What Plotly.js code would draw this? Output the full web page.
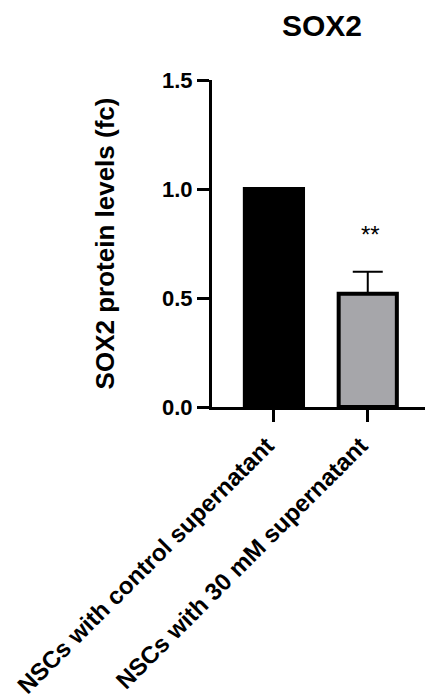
<!DOCTYPE html>
<html>
<head>
<meta charset="utf-8">
<script src="https://cdn.plot.ly/plotly-3.0.1.min.js"></script>
<style>html,body{margin:0;padding:0;background:#fff;}#chart{width:425px;height:700px;}</style>
</head>
<body>
<div id="chart"></div>
<script>
var categories = ["NSCs with control supernatant", "NSCs with 30 mM supernatant"];
var values = [1.0, 0.52];
var errorsPlus = [0, 0.10];
var significance = ["", "**"];
var yTickVals = [0, 0.5, 1.0, 1.5];
var chartTitle = "SOX2";
var yTitle = "SOX2 protein levels (fc)";

var FONT = "Liberation Sans, Arial, sans-serif";

var trace = {
  type: "bar",
  x: categories,
  y: values,
  width: [0.62, 0.62],
  marker: {
    color: ["#000000", "#a6a6aa"],
    line: {color: "#000000", width: 4}
  },
  error_y: {
    type: "data",
    symmetric: false,
    array: errorsPlus,
    arrayminus: [0, 0],
    color: "#000000",
    thickness: 2,
    width: 15,
    visible: true
  },
  hoverinfo: "skip"
};

var annotations = [];
for (var i = 0; i < categories.length; i++) {
  if (significance[i]) {
    annotations.push({
      x: categories[i],
      y: 0.79,
      xref: "x",
      yref: "y",
      text: significance[i],
      showarrow: false,
      font: {family: FONT, size: 24, color: "#000"},
      xshift: 3,
      yanchor: "middle"
    });
  }
}

var layout = {
  width: 425,
  height: 700,
  margin: {l: 212, r: 0, t: 80, b: 293, pad: 0},
  paper_bgcolor: "#ffffff",
  plot_bgcolor: "#ffffff",
  showlegend: false,
  title: {
    text: "<b>" + chartTitle + "</b>",
    font: {family: FONT, size: 30, color: "#000"},
    x: 322 / 425,
    xref: "container",
    xanchor: "center",
    y: 1 - 25 / 700,
    yref: "container",
    yanchor: "middle"
  },
  xaxis: {
    type: "category",
    range: [-0.66, 1.61],
    showline: true,
    linecolor: "#000",
    linewidth: 3,
    ticks: "outside",
    ticklen: 12,
    tickwidth: 3,
    tickcolor: "#000",
    tickangle: -45,
    ticklabelshift: -7,
    tickfont: {family: FONT, size: 24, color: "#000", weight: "bold"},
    showgrid: false,
    zeroline: false,
    fixedrange: true
  },
  yaxis: {
    range: [0, 1.5],
    tickvals: yTickVals,
    tickformat: ".1f",
    showline: true,
    linecolor: "#000",
    linewidth: 3,
    ticks: "outside",
    ticklen: 12,
    tickwidth: 3,
    tickcolor: "#000",
    tickfont: {family: FONT, size: 22, color: "#000", weight: "bold"},
    showgrid: false,
    zeroline: false,
    fixedrange: true,
    title: {
      text: "<b>" + yTitle + "</b>",
      font: {family: FONT, size: 26, color: "#000"},
      standoff: 40
    }
  },
  annotations: annotations
};

Plotly.newPlot("chart", [trace], layout, {displayModeBar: false, staticPlot: true});
</script>
</body>
</html>
